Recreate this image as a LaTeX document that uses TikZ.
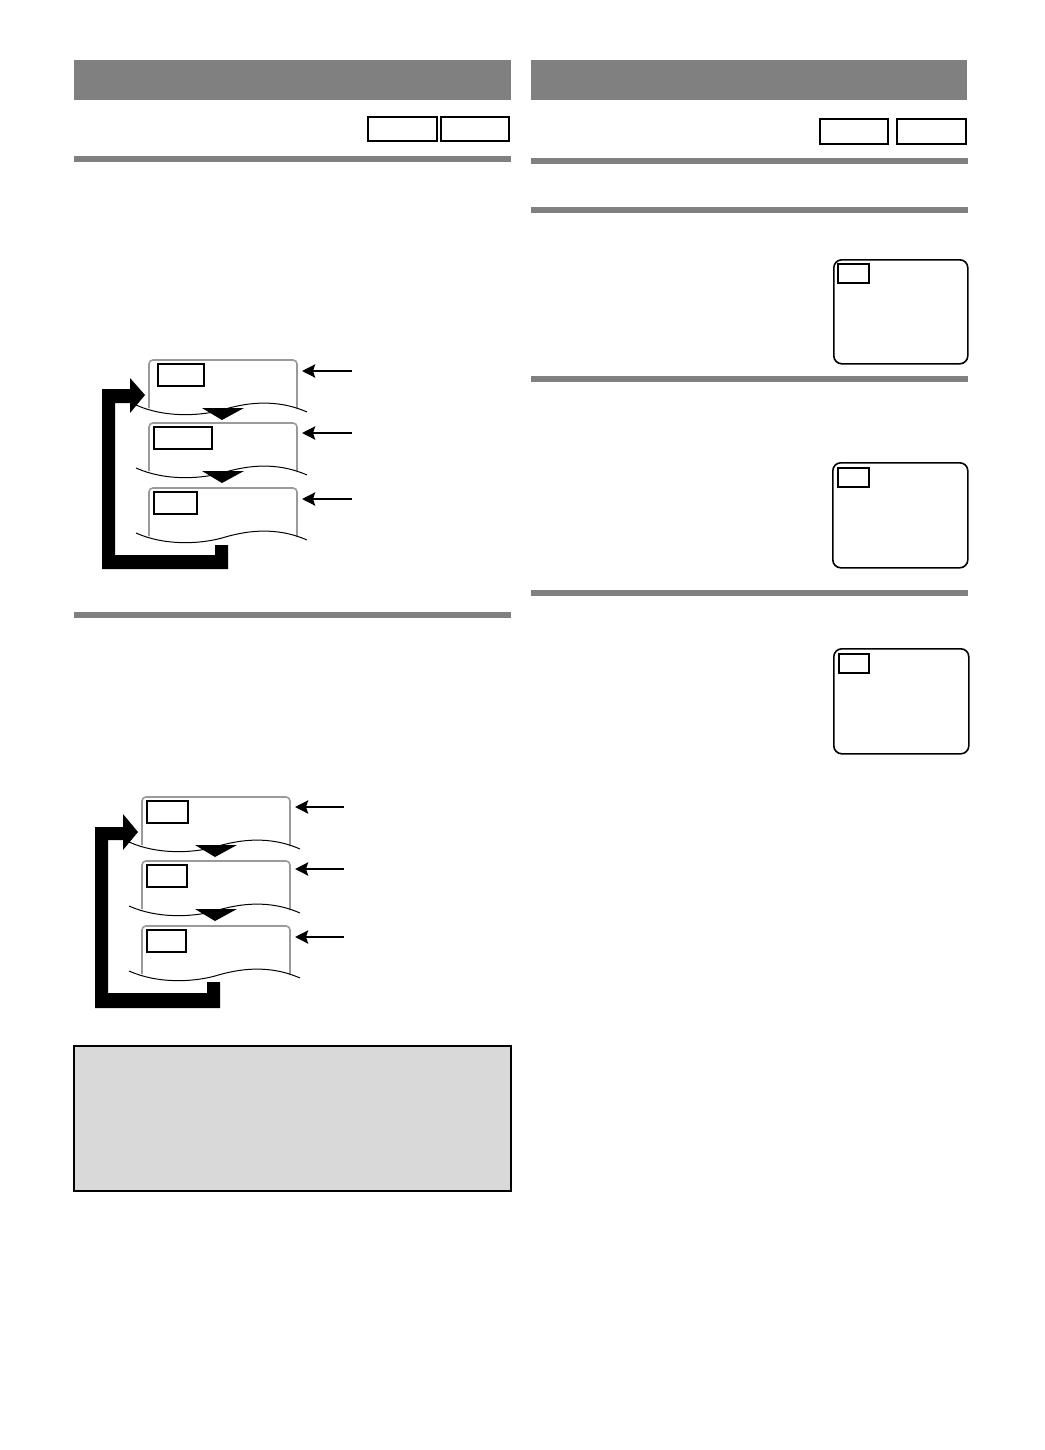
\documentclass[tikz,border=0pt]{standalone}
\usetikzlibrary{arrows.meta}
\definecolor{barc}{HTML}{808080}
\definecolor{notec}{HTML}{D9D9D9}
\definecolor{framec}{HTML}{9A9A9A}
\newcommand{\mframe}[5]{% #1 left, #2 right, #3 top, #4 inner box right, #5 inner box left offset
  \draw[frameline] (#1,#3+48) -- (#1,#3) -- (#2,#3) -- (#2,#3+49);
  \draw[waveline] (#1-13,#3+45) .. controls (#1+16,#3+58) and (#1+51,#3+56) .. (#1+73,#3+50)
     .. controls (#1+96,#3+43) and (#1+126,#3+38) .. (#2+10,#3+52);
  \draw[innerbox] (#1+#5,#3+4) rectangle (#4,#3+26);
}
\newcommand{\mtri}[2]{% #1 left, #2 top of upper frame
  \fill[black] (#1+53,#2+48) -- (#1+95,#2+48) -- (#1+73,#2+60) -- cycle;
}
\begin{document}
\begin{tikzpicture}[x=1pt,y=-1pt,
  frameline/.style={draw=framec,line width=1.6pt,rounded corners=4pt},
  waveline/.style={draw=black,line width=1pt},
  innerbox/.style={draw=black,line width=1.4pt},
  tagbox/.style={draw=black,line width=2pt},
  screen/.style={draw=black,line width=1.6pt,rounded corners=8pt},
  pointer/.style={line width=2.6pt,-{Stealth[length=13pt,width=13pt,inset=2pt]}},
  loopfill/.style={fill=black}]
\useasboundingbox[fill=white] (0,0) rectangle (1044,1450);

% ===== left column =====
\fill[barc] (74,60) rectangle (511,100);
\draw[tagbox] (368,117) rectangle (437,141);
\draw[tagbox] (441,117) rectangle (509,141);
\fill[barc] (74,156) rectangle (511,162);

% diagram 1
\mframe{149}{297}{360}{204}{9}
\mframe{149}{297}{423}{212}{5}
\mframe{149}{297}{488}{197}{5}
\mtri{149}{360}
\mtri{149}{423}
\fill[loopfill] (102,569) -- (228,569) -- (228,545) -- (215,545) -- (215,555) -- (115,555)
  -- (115,403) -- (130,403) -- (130,413) -- (145,395) -- (130,378) -- (130,389) -- (102,389) -- cycle;
\coordinate (a1s) at (352,371); \coordinate (a1e) at (302,371);
\coordinate (a2s) at (352,433); \coordinate (a2e) at (302,433);
\coordinate (a3s) at (352,499); \coordinate (a3e) at (302,499);
\draw[pointer] (a1s) -- (a1e);
\draw[pointer] (a2s) -- (a2e);
\draw[pointer] (a3s) -- (a3e);

\fill[barc] (74,612) rectangle (511,618);

% diagram 2
\mframe{142}{290}{797}{188}{5}
\mframe{142}{290}{861}{187}{5}
\mframe{142}{290}{926}{186}{5}
\mtri{142}{797}
\mtri{142}{861}
\fill[loopfill] (95,1008) -- (220,1008) -- (220,982) -- (207,982) -- (207,993) -- (108,993)
  -- (108,840) -- (123,840) -- (123,850) -- (138,832) -- (123,814) -- (123,827) -- (95,827) -- cycle;
\coordinate (b1s) at (344,807); \coordinate (b1e) at (295,807);
\coordinate (b2s) at (344,869); \coordinate (b2e) at (295,869);
\coordinate (b3s) at (344,937); \coordinate (b3e) at (295,937);
\draw[pointer] (b1s) -- (b1e);
\draw[pointer] (b2s) -- (b2e);
\draw[pointer] (b3s) -- (b3e);

% note box
\draw[fill=notec,draw=black,line width=2pt] (74,1046) rectangle (511,1191);

% ===== right column =====
\fill[barc] (531,60) rectangle (967,100);
\draw[tagbox] (820,119) rectangle (888,144);
\draw[tagbox] (897,119) rectangle (966,144);
\fill[barc] (531,158) rectangle (968,164);
\fill[barc] (531,207) rectangle (968,213);

\node[screen,minimum width=134pt,minimum height=104pt,inner sep=0pt,anchor=north west] (s1) at (833,259) {};
\draw[innerbox] (838,264) rectangle (869,283);
\fill[barc] (531,376) rectangle (968,382);

\node[screen,minimum width=135pt,minimum height=105pt,inner sep=0pt,anchor=north west] (s2) at (832,462) {};
\draw[innerbox] (838,468) rectangle (869,487);
\fill[barc] (531,590) rectangle (968,596);

\node[screen,minimum width=135pt,minimum height=105pt,inner sep=0pt,anchor=north west] (s3) at (833,648) {};
\draw[innerbox] (839,654) rectangle (869,673);
\end{tikzpicture}
\end{document}
